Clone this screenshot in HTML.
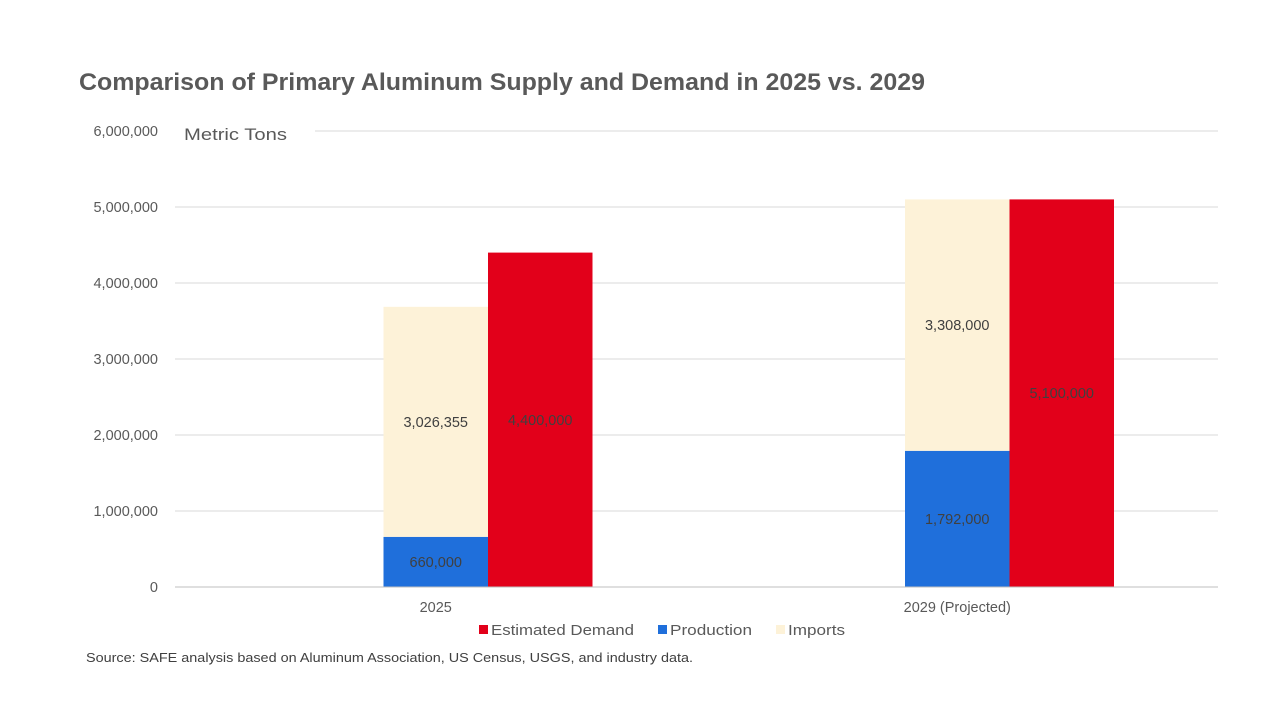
<!DOCTYPE html>
<html><head><meta charset="utf-8"><style>
body{margin:0;background:#fff;width:1280px;height:720px;overflow:hidden;font-family:"Liberation Sans",sans-serif}
svg{display:block}
</style></head><body>
<svg id="c" width="1280" height="720">
<text x="79" y="90" font-size="24" font-weight="bold" fill="#595959" textLength="846" lengthAdjust="spacingAndGlyphs">Comparison of Primary Aluminum Supply and Demand in 2025 vs. 2029</text>
<text x="184" y="140" font-size="17" fill="#595959" textLength="103" lengthAdjust="spacingAndGlyphs">Metric Tons</text>
<text x="86" y="662" font-size="13" fill="#404040" textLength="607" lengthAdjust="spacingAndGlyphs">Source: SAFE analysis based on Aluminum Association, US Census, USGS, and industry data.</text>
</svg>
<script>
const categories=["2025","2029 (Projected)"];
const production=[660000,1792000];
const imports=[3026355,3308000];
const demand=[4400000,5100000];
const productionLabels=["660,000","1,792,000"];
const importLabels=["3,026,355","3,308,000"];
const demandLabels=["4,400,000","5,100,000"];
const yTicks=[0,1000000,2000000,3000000,4000000,5000000,6000000];
const yTickLabels=["0","1,000,000","2,000,000","3,000,000","4,000,000","5,000,000","6,000,000"];
const svg=document.getElementById('c');const NS='http://www.w3.org/2000/svg';
const L=175,R=1218,Y0=587,Y6=131;
const y=v=>Y0-(v/6000000)*(Y0-Y6);
const cw=(R-L)/categories.length;
const cx=i=>L+cw*(i+0.5);
const bw=104.5;
function mk(t,a){const e=document.createElementNS(NS,t);for(const k in a)e.setAttribute(k,a[k]);svg.appendChild(e);return e;}
yTicks.forEach((v,i)=>{
 const g=mk('line',{x1:i===6?315:L,x2:R,y1:y(v),y2:y(v),stroke:'#d9d9d9','stroke-width':1});
 
 
 const t=mk('text',{x:158,y:y(v)+5,'font-size':14.5,fill:'#595959','text-anchor':'end'});t.textContent=yTickLabels[i];
 
 
});
function lbl(x,yy,s){const t=mk('text',{x:x,y:yy+5,'font-size':14.5,fill:'#404040','text-anchor':'middle'});t.textContent=s;
 
 }
categories.forEach((c,i)=>{
 const x0=cx(i)-bw/2,x1=cx(i)+bw/2;
 let r=mk('rect',{x:x0,y:y(production[i]),width:bw,height:Y0-y(production[i]),fill:'#1f6fdb'});
 
 
 const top=production[i]+imports[i];
 r=mk('rect',{x:x0,y:y(top),width:bw,height:y(production[i])-y(top),fill:'#fdf2d8'});
 
 
 r=mk('rect',{x:x1,y:y(demand[i]),width:bw,height:Y0-y(demand[i]),fill:'#e2001a'});
 
 
 lbl(cx(i),(y(production[i])+Y0)/2,productionLabels[i]);
 lbl(cx(i),(y(top)+y(production[i]))/2,importLabels[i]);
 lbl(x1+bw/2,(y(demand[i])+Y0)/2,demandLabels[i]);
 const t=mk('text',{x:cx(i),y:612,'font-size':14.5,fill:'#595959','text-anchor':'middle'});t.textContent=c;
 
 
});
const ax=mk('line',{x1:L,x2:R,y1:Y0,y2:Y0,stroke:'#bfbfbf','stroke-width':1});


[["Estimated Demand","#e2001a",479,143],["Production","#1f6fdb",658,82],["Imports","#fdf2d8",776,57]].forEach(l=>{
 const r=mk('rect',{x:l[2],y:625,width:9,height:9,fill:l[1]});
 
 
 const t=mk('text',{x:l[2]+12,y:635,'font-size':15,fill:'#595959',textLength:l[3],lengthAdjust:'spacingAndGlyphs'});t.textContent=l[0];
 
 
});
</script>
</body></html>
